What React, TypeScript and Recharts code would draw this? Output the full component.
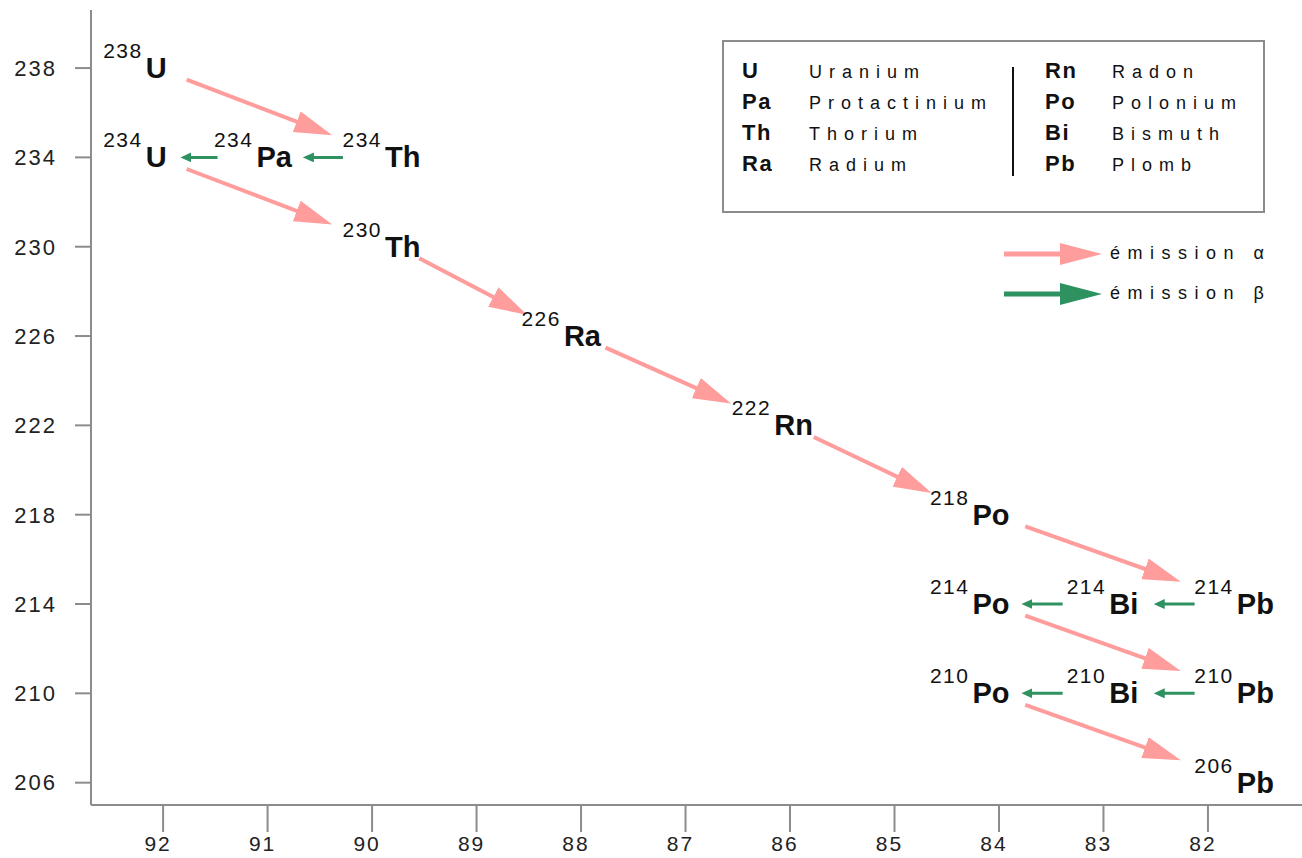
import React from "react";
import { ComposedChart, XAxis, YAxis, Line, Scatter } from "recharts";

// uranium 238 decay chain (Z on x, A on y)
const NUCLIDES = ["238U", "234U", "234Pa", "234Th", "230Th", "226Ra", "222Rn", "218Po", "214Po", "210Po", "214Bi", "210Bi", "214Pb", "210Pb", "206Pb"];
const SYMBOL = ["U", "U", "Pa", "Th", "Th", "Ra", "Rn", "Po", "Po", "Po", "Bi", "Bi", "Pb", "Pb", "Pb"];
const MASS = [238, 234, 234, 234, 230, 226, 222, 218, 214, 210, 214, 210, 214, 210, 206];
const Z = [92, 92, 91, 90, 90, 88, 86, 84, 84, 84, 83, 83, 82, 82, 82];

const ALPHA_FROM = ["238U", "234U", "230Th", "226Ra", "222Rn", "218Po", "214Po", "210Po"];
const ALPHA_TO = ["234Th", "230Th", "226Ra", "222Rn", "218Po", "214Pb", "210Pb", "206Pb"];
const BETA_FROM = ["234Th", "234Pa", "214Pb", "214Bi", "210Pb", "210Bi"];
const BETA_TO = ["234Pa", "234U", "214Bi", "214Po", "210Bi", "210Po"];

const X_TICKS = [92, 91, 90, 89, 88, 87, 86, 85, 84, 83, 82];
const Y_TICKS = [206, 210, 214, 218, 222, 226, 230, 234, 238];

const LEFT_SYM = ["U", "Pa", "Th", "Ra"];
const LEFT_NAME = ["Uranium", "Protactinium", "Thorium", "Radium"];
const RIGHT_SYM = ["Rn", "Po", "Bi", "Pb"];
const RIGHT_NAME = ["Radon", "Polonium", "Bismuth", "Plomb"];

const W = 1302;
const H = 858;
const AXIS = "#8c8c8c";
const ALPHA_COLOR = "#ff9c9c";
const BETA_COLOR = "#2e9160";
const FONT = "'Liberation Sans', Arial, sans-serif";

// labels are nudged sideways a bit (Z units, axis reversed)
const LABEL_SHIFT: Record<string, number> = {
  U: 0.27, Pa: 0.14, Th: -0.09, Ra: 0.19, Rn: 0.17, Po: 0.28, Bi: 0.01, Pb: -0.25,
};

const labelPoints = NUCLIDES.map((id, i) => ({
  id,
  x: Z[i] + LABEL_SHIFT[SYMBOL[i]],
  y: MASS[i],
  mass: MASS[i],
  symbol: SYMBOL[i],
}));
const byId: Record<string, any> = {};
labelPoints.forEach((p) => (byId[p.id] = p));

const segment = (from: string, to: string, fx0: number, fx1: number, fy0: number, fy1: number) => {
  const a = byId[from];
  const b = byId[to];
  return [
    { x: a.x + (b.x - a.x) * fx0, y: a.y + (b.y - a.y) * fy0 },
    { x: a.x + (b.x - a.x) * fx1, y: a.y + (b.y - a.y) * fy1 },
  ];
};

const alphaSegs = ALPHA_FROM.map((f, i) => segment(f, ALPHA_TO[i], 0.21, 0.77, 0.13, 0.72));
const betaSegs = BETA_FROM.map((f, i) => segment(f, BETA_TO[i], 0.3, 0.58, 0, 0));

const NuclideLabel = (props: any) => {
  const { cx, cy, payload } = props;
  if (cx == null || cy == null) return null;
  return (
    <text x={cx} y={cy + 10} textAnchor="middle" fontFamily={FONT} fill="#111">
      <tspan dy={-20} fontSize={21} letterSpacing={1.5}>{payload.mass}</tspan>
      <tspan dy={20} dx={3} fontSize={29} fontWeight="bold">{payload.symbol}</tspan>
    </text>
  );
};

const LegendLayer = () => (
  <svg width={W} height={H} style={{ position: "absolute", left: 0, top: 0, pointerEvents: "none" }}>
    <defs>
      <marker id="headAlpha" markerUnits="userSpaceOnUse" markerWidth="38" markerHeight="22" refX="30" refY="11" orient="auto">
        <path d="M0,0 L38,11 L0,22 Z" fill={ALPHA_COLOR} />
      </marker>
      <marker id="headBeta" markerUnits="userSpaceOnUse" markerWidth="11" markerHeight="10" refX="7" refY="5" orient="auto">
        <path d="M0,0 L11,5 L0,10 Z" fill={BETA_COLOR} />
      </marker>
    </defs>
    <rect x={723} y={41} width={541} height={171} fill="#fff" stroke={AXIS} strokeWidth={2} />
    <line x1={1013} y1={67} x2={1013} y2={176} stroke="#111" strokeWidth={2} />
    {LEFT_SYM.map((s, i) => (
      <g key={s} fontFamily={FONT} fill="#111">
        <text x={742} y={78 + i * 31} fontSize={22} fontWeight="bold" letterSpacing={1.5}>{s}</text>
        <text x={809} y={78 + i * 31} fontSize={18} letterSpacing={7}>{LEFT_NAME[i]}</text>
      </g>
    ))}
    {RIGHT_SYM.map((s, i) => (
      <g key={s} fontFamily={FONT} fill="#111">
        <text x={1045} y={78 + i * 31} fontSize={22} fontWeight="bold" letterSpacing={1.5}>{s}</text>
        <text x={1112} y={78 + i * 31} fontSize={18} letterSpacing={7}>{RIGHT_NAME[i]}</text>
      </g>
    ))}
    <line x1={1004} y1={254} x2={1062} y2={254} stroke={ALPHA_COLOR} strokeWidth={5} />
    <path d="M1060,243 L1102,254 L1060,265 Z" fill={ALPHA_COLOR} />
    <text x={1110} y={259} fontFamily={FONT} fontSize={18} letterSpacing={7.5} fill="#111">émission α</text>
    <line x1={1004} y1={294} x2={1062} y2={294} stroke={BETA_COLOR} strokeWidth={5} />
    <path d="M1060,283 L1102,294 L1060,305 Z" fill={BETA_COLOR} />
    <text x={1110} y={299} fontFamily={FONT} fontSize={18} letterSpacing={7.5} fill="#111">émission β</text>
  </svg>
);

const tickStyle = { fill: "#222", fontSize: 21, fontFamily: FONT, letterSpacing: 2 };

export default function App() {
  return (
    <div style={{ position: "absolute", left: 0, top: 0, width: W, height: H, background: "#fff" }}>
      <LegendLayer />
      <ComposedChart width={W} height={H} margin={{ top: 10, right: 0, bottom: 0, left: 0 }}>
        <XAxis
          type="number"
          dataKey="x"
          domain={[81.1, 92.69]}
          allowDataOverflow
          reversed
          ticks={X_TICKS}
          interval={0}
          height={53}
          tickSize={27}
          tickMargin={4}
          axisLine={{ stroke: AXIS, strokeWidth: 2 }}
          tickLine={{ stroke: AXIS, strokeWidth: 2 }}
          tick={{ ...tickStyle, dx: -5 }}
        />
        <YAxis
          type="number"
          dataKey="y"
          domain={[205.0, 240.6]}
          allowDataOverflow
          ticks={Y_TICKS}
          interval={0}
          width={91}
          tickSize={16}
          tickMargin={18}
          axisLine={{ stroke: AXIS, strokeWidth: 2 }}
          tickLine={{ stroke: AXIS, strokeWidth: 2 }}
          tick={{ ...tickStyle, fontSize: 22 }}
        />
        {alphaSegs.map((seg, i) => (
          <Line
            key={"a" + i}
            data={seg}
            dataKey="y"
            type="linear"
            stroke={ALPHA_COLOR}
            strokeWidth={4}
            dot={false}
            activeDot={false}
            markerEnd="url(#headAlpha)"
            isAnimationActive={false}
          />
        ))}
        {betaSegs.map((seg, i) => (
          <Line
            key={"b" + i}
            data={seg}
            dataKey="y"
            type="linear"
            stroke={BETA_COLOR}
            strokeWidth={3}
            dot={false}
            activeDot={false}
            markerEnd="url(#headBeta)"
            isAnimationActive={false}
          />
        ))}
        <Scatter data={labelPoints} shape={NuclideLabel} isAnimationActive={false} />
      </ComposedChart>
    </div>
  );
}
